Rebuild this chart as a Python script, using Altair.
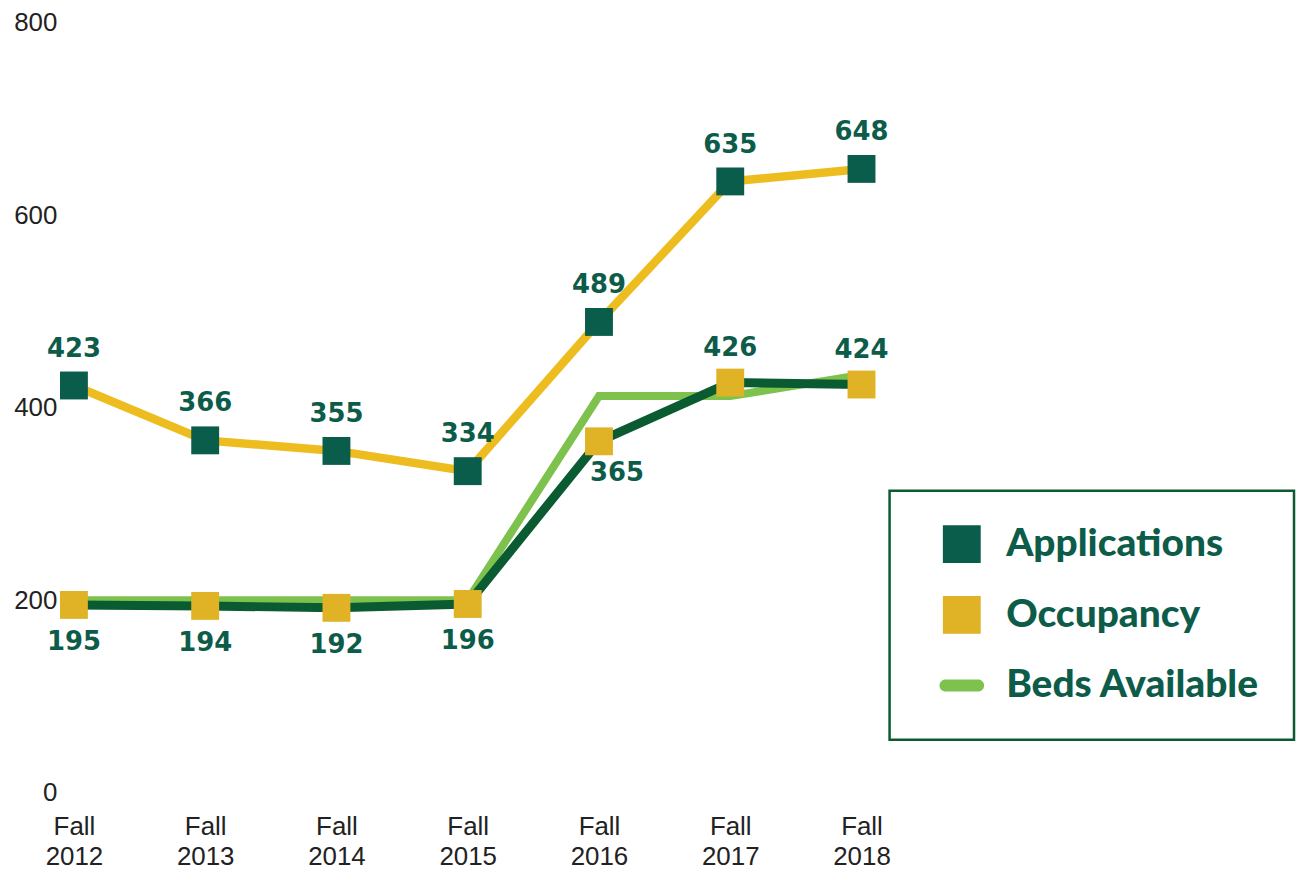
import altair as alt
import pandas as pd

years = ["Fall 2012", "Fall 2013", "Fall 2014", "Fall 2015", "Fall 2016", "Fall 2017", "Fall 2018"]
applications = [423, 366, 355, 334, 489, 635, 648]
occupancy = [195, 194, 192, 196, 365, 426, 424]
beds_available = [200, 200, 200, 200, 412, 412, 434]
series_names = ["Applications", "Occupancy", "Beds Available"]

rows = []
for name, vals in zip(series_names, [applications, occupancy, beds_available]):
    for i, (y, v) in enumerate(zip(years, vals)):
        rows.append({"year": y, "idx": i, "series": name, "value": v})
df = pd.DataFrame(rows)

YELLOW = "#EDBD1F"
MARK_YELLOW = "#E0B226"
DARK = "#0B5D4B"
OCC_LINE = "#0A5A32"
LIGHT = "#7DC24D"
LABEL = "#0D5C4A"
AXIS_FONT = "Liberation Sans"

x = alt.X("year:N", sort=years, title=None,
          scale=alt.Scale(type="point", padding=0.1),
          axis=alt.Axis(labelAngle=0, labelExpr="split(datum.label, ' ')", labelLineHeight=30,
                        labelFont=AXIS_FONT, labelFontSize=26, labelColor="#222222",
                        labelPadding=21, domain=False, ticks=False, grid=False))
y = alt.Y("value:Q", title=None,
          scale=alt.Scale(domain=[0, 800], nice=False),
          axis=alt.Axis(values=[0, 200, 400, 600, 800], labelFont=AXIS_FONT, labelFontSize=26,
                        labelColor="#222222", labelPadding=4, domain=False, ticks=False, grid=False))

base = alt.Chart(df)

line_beds = base.transform_filter(alt.datum.series == "Beds Available").mark_line(
    color=LIGHT, strokeWidth=8).encode(x=x, y=y)
line_occ = base.transform_filter(alt.datum.series == "Occupancy").mark_line(
    color=OCC_LINE, strokeWidth=9).encode(x=x, y=y)
line_app = base.transform_filter(alt.datum.series == "Applications").mark_line(
    color=YELLOW, strokeWidth=8.5).encode(x=x, y=y)

sq = "M-1,-1H1V1H-1Z"
bar = "M-0.86,-0.32H0.86A0.32,0.32 0 0 1 0.86,0.32H-0.86A0.32,0.32 0 0 1 -0.86,-0.32Z"

legend = alt.Legend(title=None, orient="none", legendX=832, legendY=470)
points = base.transform_filter(alt.datum.series != "Beds Available").mark_point(
    filled=True, opacity=1, strokeWidth=0, size=784).encode(
    x=x, y=y,
    fill=alt.Fill("series:N", scale=alt.Scale(domain=series_names, range=[DARK, MARK_YELLOW, LIGHT]),
                  legend=legend),
    shape=alt.Shape("series:N", scale=alt.Scale(domain=series_names, range=[sq, sq, bar]),
                    legend=legend),
)

lab_font = dict(font="DejaVu Sans", fontSize=26, fontWeight="bold", color=LABEL)

labels_app = base.transform_filter(alt.datum.series == "Applications").mark_text(
    dy=-37, **lab_font).encode(x=x, y=y, text="value:Q")
labels_occ_below = base.transform_filter(
    (alt.datum.series == "Occupancy") & (alt.datum.idx <= 3)).mark_text(
    dy=37, **lab_font).encode(x=x, y=y, text="value:Q")
labels_occ_2016 = base.transform_filter(
    (alt.datum.series == "Occupancy") & (alt.datum.idx == 4)).mark_text(
    dy=32, dx=18, **lab_font).encode(x=x, y=y, text="value:Q")
labels_occ_above = base.transform_filter(
    (alt.datum.series == "Occupancy") & (alt.datum.idx > 4)).mark_text(
    dy=-35, **lab_font).encode(x=x, y=y, text="value:Q")

chart = alt.layer(line_beds, line_occ, line_app, points, labels_app, labels_occ_below,
                  labels_occ_2016, labels_occ_above).properties(
    width=817, height=773, padding={"left": 5, "top": 0, "right": 0, "bottom": 0}
).configure_view(stroke=None).configure_legend(
    strokeColor="#0B5A30", strokeWidth=2.5, padding=34, symbolSize=1444, symbolStrokeWidth=0,
    symbolOffset=19, labelOffset=25, rowPadding=31, labelFont="Lato", labelFontWeight=900,
    labelFontSize=39, labelColor=LABEL, labelLimit=400, fillColor="white"
)

chart.save("out.html", embed_options={"renderer": "svg", "actions": False})
